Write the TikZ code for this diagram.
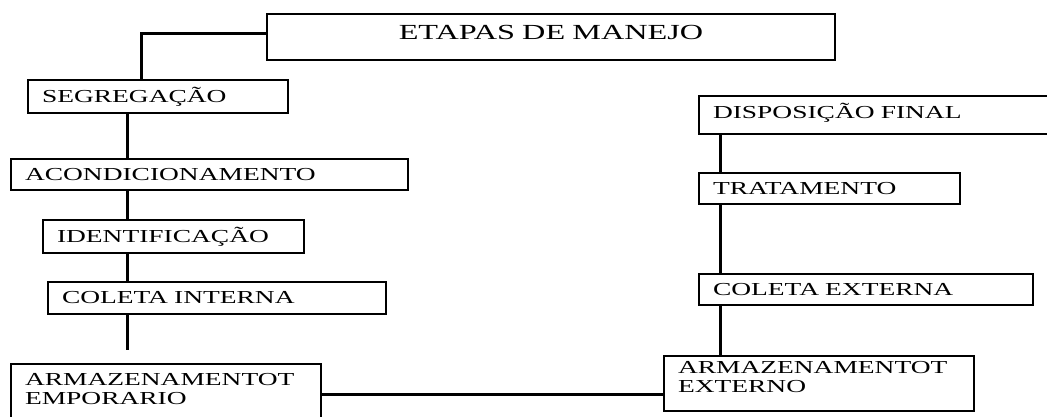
\documentclass[tikz,border=0pt]{standalone}
\usepackage{fontspec}
\setmainfont{Liberation Serif}[FakeStretch=1.5]
\usetikzlibrary{calc}

\tikzset{
    etapa/.style={draw, line width=2pt, anchor=north west, inner xsep=14pt, inner ysep=0pt,
        align=left, font=\fontsize{18.3}{19}\selectfont},
    liga/.style={line width=3pt},
}
% espaco abaixo do texto, para subir o texto na caixa
\newcommand{\descer}[1]{\rule[-#1]{0pt}{0pt}}

\begin{document}
\begin{tikzpicture}[x=1pt, y=-1pt]
        \useasboundingbox (0,0) rectangle (1047,416);
        \clip (0,0) rectangle (1047,416);
        % colunas dos conectores
        \coordinate (espL) at (127,0);
        \coordinate (espR) at (720,0);
        \node[etapa, align=center, font=\fontsize{21.5}{22}\selectfont, minimum width=568pt, minimum height=46pt, text width=540pt, text depth=10pt] (etapas) at (266,13) {ETAPAS DE MANEJO};
        % lado interno
        \node[etapa, minimum width=260pt, minimum height=33pt, text width=232pt] (seg) at (27,79) {SEGREGAÇÃO};
        \node[etapa, minimum width=397pt, minimum height=31pt, text width=369pt] (acond) at (10,158) {ACONDICIONAMENTO};
        \node[etapa, minimum width=261pt, minimum height=33pt, text width=233pt] (ident) at (42,219) {IDENTIFICAÇÃO};
        \node[etapa, minimum width=338pt, minimum height=32pt, text width=310pt] (colint) at (47,281) {COLETA INTERNA};
        \node[etapa, minimum width=310pt, minimum height=60pt, text width=282pt] (armtemp) at (10,363) {ARMAZENAMENTOT\\EMPORARIO\descer{11pt}};
        % lado externo
        \node[etapa, minimum width=362pt, minimum height=38pt, text width=334pt, text depth=8pt] (disp) at (698,95) {DISPOSIÇÃO FINAL};
        \node[etapa, minimum width=261pt, minimum height=31pt, text width=233pt] (trat) at (698,172) {TRATAMENTO};
        \node[etapa, minimum width=334pt, minimum height=31pt, text width=306pt] (colext) at (698,273) {COLETA EXTERNA};
        \node[etapa, minimum width=310pt, minimum height=55pt, text width=282pt] (armext) at (663,355) {ARMAZENAMENTOT\\EXTERNO\descer{13pt}};
        \coordinate (fim) at (127,350);
        % conectores
        \draw[liga] ([yshift=4pt]etapas.west) -| ([xshift=-17pt]seg.north);
        \draw[liga] (seg.south -| espL) -- (acond.north -| espL);
        \draw[liga] (acond.south -| espL) -- (ident.north -| espL);
        \draw[liga] (ident.south -| espL) -- (colint.north -| espL);
        \draw[liga] (colint.south -| espL) -- (fim);
        \draw[liga] (armtemp.east) -- (armtemp.east -| armext.west);
        \draw[liga] (disp.south -| espR) -- (trat.north -| espR);
        \draw[liga] (trat.south -| espR) -- (colext.north -| espR);
        \draw[liga] (colext.south -| espR) -- (armext.north -| espR);
    \end{tikzpicture}
\end{document}
